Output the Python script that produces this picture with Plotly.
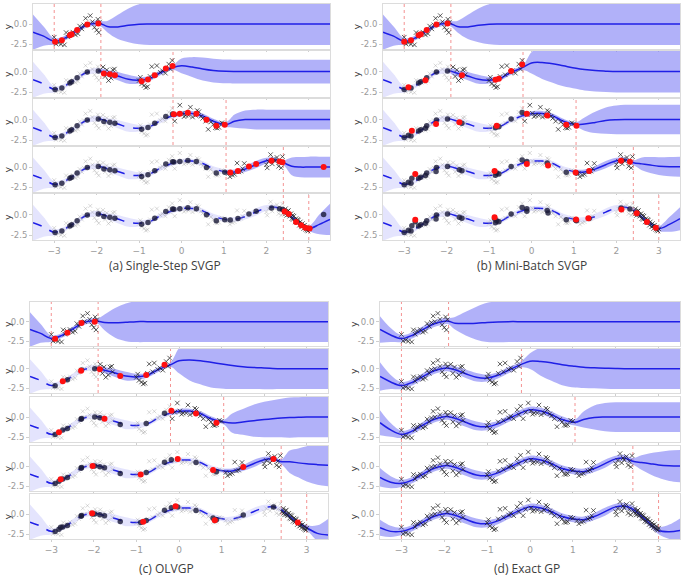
import plotly.graph_objects as go

XG = [-3.5, -3.25, -3.0, -2.75, -2.5, -2.25, -2.0, -1.9, -1.75, -1.5, -1.25, -1.0,
      -0.75, -0.5, -0.2, 0.0, 0.25, 0.5, 0.75, 1.05, 1.25, 1.5, 1.75, 2.0, 2.2,
      2.4, 2.6, 2.8, 3.0, 3.25, 3.5]
BOUNDS = [-3.0, -1.9, -0.2, 1.05, 2.4, 3.0]
X_TICKS = [-3, -2, -1, 0, 1, 2, 3]
Y_TICKS = [0.0, -2.5]
Y_TICKTEXT = ["0.0", "-2.5"]

# fitted mean / half-width of the band up to x = 3.0 (sparse variational models)
FIT_MEAN = [-1.0, -1.5, -2.15, -1.75, -0.95, -0.15, 0.1, 0.05, -0.2, -0.55, -0.95, -1.05,
            -0.85, -0.15, 0.5, 0.72, 0.75, 0.45, -0.2, -0.62, -0.6, -0.25, 0.3, 0.8, 0.9,
            0.55, -0.3, -1.1, -1.7]
FIT_SD = [2.2, 1.2, 0.4, 0.3, 0.3, 0.3, 0.35, 0.35, 0.4, 0.5, 0.55, 0.4, 0.3, 0.3, 0.3,
          0.3, 0.3, 0.3, 0.3, 0.3, 0.3, 0.35, 0.45, 0.35, 0.3, 0.3, 0.3, 0.3, 0.3]

# exact GP fit
EXACT_MEAN = [-1.9, -2.2, -2.15, -1.75, -1.0, -0.3, 0.05, 0.05, -0.15, -0.65, -1.1, -1.2,
              -0.85, -0.2, 0.55, 0.9, 0.75, 0.3, -0.3, -0.65, -0.7, -0.3, 0.3, 0.9, 1.0,
              0.6, -0.25, -1.2, -2.05]
EXACT_SD = [1.0, 0.7, 0.45, 0.4, 0.4, 0.4, 0.4, 0.4, 0.45, 0.55, 0.55, 0.45, 0.4, 0.4, 0.4,
            0.4, 0.4, 0.4, 0.4, 0.4, 0.4, 0.45, 0.5, 0.4, 0.4, 0.4, 0.4, 0.4, 0.45]
D_LEFT_MEAN = [[-1.0, -1.7], [-1.0, -1.7], [-0.7, -1.6], [-1.4, -2.0], [-1.7, -2.15]]
D_LEFT_SD = [[1.7, 0.9], [1.8, 0.9], [1.55, 0.85], [1.15, 0.75], [1.0, 0.7]]

# what the mean / band do to the right of the current batch, one list per row
A_TAIL_MEAN = [
    [-0.3, -0.35, -0.15, -0.02, 0, 0, 0, 0, 0, 0, 0, 0, 0, 0, 0, 0, 0, 0, 0, 0, 0, 0, 0],
    [0.7, 0.55, 0.3, 0.12, 0.02, 0, 0, 0, 0, 0, 0, 0, 0, 0, 0, 0],
    [-0.2, 0.0, 0, 0, 0, 0, 0, 0, 0, 0, 0],
    [0.1, 0.0, 0.0, 0.0, 0.0],
    [-1.2, -0.6],
]
A_TAIL_SD = [
    [0.7, 1.5, 2.1, 2.5, 2.6, 2.6, 2.6, 2.6, 2.6, 2.6, 2.6, 2.6, 2.6, 2.6, 2.6, 2.6, 2.6,
     2.6, 2.6, 2.6, 2.6, 2.6, 2.6],
    [0.9, 1.2, 1.4, 1.45, 1.45, 1.45, 1.45, 1.45, 1.45, 1.45, 1.45, 1.45, 1.45, 1.45, 1.45, 1.45],
    [0.8, 1.1, 1.2, 1.2, 1.2, 1.2, 1.2, 1.2, 1.2, 1.2, 1.2],
    [1.1, 1.25, 1.3, 1.3, 1.3],
    [1.2, 1.9],
]
B_TAIL_MEAN = [
    [-0.3, -0.35, -0.15, -0.02, 0, 0, 0, 0, 0, 0, 0, 0, 0, 0, 0, 0, 0, 0, 0, 0, 0, 0, 0],
    [1.05, 1.1, 0.95, 0.7, 0.4, 0.25, 0.12, 0.05, 0.0, 0, 0, 0, 0, 0, 0, 0],
    [-0.55, -0.35, -0.12, -0.03, 0, 0, 0, 0, 0, 0, 0],
    [0.4, 0.25, 0.12, 0.05, 0.05],
    [-1.2, -0.5],
]
B_TAIL_SD = [
    [0.7, 1.5, 2.1, 2.5, 2.6, 2.6, 2.6, 2.6, 2.6, 2.6, 2.6, 2.6, 2.6, 2.6, 2.6, 2.6, 2.6,
     2.6, 2.6, 2.6, 2.6, 2.6, 2.6],
    [1.3, 2.0, 2.3, 2.5, 2.5, 2.55, 2.55, 2.55, 2.55, 2.55, 2.55, 2.55, 2.55, 2.55, 2.55, 2.55],
    [0.8, 1.3, 1.6, 1.75, 1.8, 1.8, 1.8, 1.8, 1.8, 1.8, 1.8],
    [0.8, 1.0, 1.1, 1.2, 1.25],
    [0.9, 1.4],
]
C_TAIL_MEAN = [
    [-0.1, -0.15, -0.08, 0, 0, 0, 0, 0, 0, 0, 0, 0, 0, 0, 0, 0, 0, 0, 0, 0, 0, 0, 0],
    [1.0, 1.1, 1.0, 0.8, 0.55, 0.4, 0.25, 0.15, 0.08, 0.03, 0, 0, 0, 0, 0, 0],
    [-0.75, -0.6, -0.45, -0.3, -0.2, -0.12, -0.06, -0.02, 0, 0, 0],
    [0.55, 0.4, 0.28, 0.18, 0.1],
    [-2.4, -2.6],
]
C_TAIL_SD = [
    [1.0, 1.9, 2.4, 2.6, 2.6, 2.6, 2.6, 2.6, 2.6, 2.6, 2.6, 2.6, 2.6, 2.6, 2.6, 2.6, 2.6,
     2.6, 2.6, 2.6, 2.6, 2.6, 2.6],
    [1.6, 2.6, 3.0, 3.2, 3.1, 3.0, 2.85, 2.75, 2.7, 2.65, 2.6, 2.6, 2.6, 2.6, 2.6, 2.6],
    [1.2, 1.6, 2.0, 2.2, 2.3, 2.4, 2.5, 2.5, 2.5, 2.5, 2.5],
    [1.4, 1.8, 2.2, 2.5, 2.6],
    [1.0, 2.0],
]
D_TAIL_MEAN = [
    [-0.2, -0.25, -0.2, -0.1, -0.03, 0, 0, 0, 0, 0, 0, 0, 0, 0, 0, 0, 0, 0, 0, 0, 0, 0, 0],
    [0.95, 0.9, 0.75, 0.5, 0.3, 0.18, 0.1, 0.05, 0.02, 0, 0, 0, 0, 0, 0, 0],
    [-0.3, -0.05, 0, 0, 0, 0, 0, 0, 0, 0, 0],
    [0.45, 0.3, 0.15, 0.05, 0.0],
    [-2.2, -2.05],
]
D_TAIL_SD = [
    [0.8, 1.5, 2.1, 2.5, 2.6, 2.6, 2.6, 2.6, 2.6, 2.6, 2.6, 2.6, 2.6, 2.6, 2.6, 2.6, 2.6,
     2.6, 2.6, 2.6, 2.6, 2.6, 2.6],
    [1.0, 1.8, 2.3, 2.6, 2.7, 2.65, 2.6, 2.6, 2.6, 2.6, 2.6, 2.6, 2.6, 2.6, 2.6, 2.6],
    [1.0, 1.5, 1.75, 1.85, 1.85, 1.85, 1.85, 1.85, 1.85, 1.85, 1.85],
    [0.9, 1.3, 1.6, 1.9, 2.0],
    [0.9, 1.5],
]

# observations (same stream for every model)
DATA_X = [-3.0, -2.96, -2.9, -2.84, -2.76, -2.72, -2.68, -2.63, -2.56, -2.5, -2.44, -2.4,
          -2.35, -2.3, -2.26, -2.22, -2.15, -2.1, -2.05, -2.0, -1.95, -1.97, -1.93,
          -1.85, -1.8, -1.76, -1.72, -1.66, -1.62, -1.58, -1.56, -1.0, -0.97, -0.94, -0.88,
          -0.84, -0.8, -0.74, -0.7, -0.62, -0.58, -0.5, -0.45, -0.38, -0.3, -0.26, -0.22,
          -0.16, -0.1, -0.04, 0.02, 0.06, 0.1, 0.17, 0.21, 0.26, 0.33, 0.37, 0.41, 0.46, 0.5,
          0.57, 0.63, 0.69, 0.75, 0.8, 0.84, 0.88, 0.95, 1.0,
          1.1, 1.14, 1.2, 1.25, 1.31, 1.35, 1.4, 1.44, 1.48, 2.0, 2.02, 2.05, 2.1, 2.14,
          2.17, 2.2, 2.25, 2.29, 2.32, 2.35, 2.38,
          2.42, 2.45, 2.48, 2.5, 2.53, 2.55, 2.58, 2.6, 2.63, 2.65, 2.68, 2.7, 2.72, 2.75,
          2.78, 2.8, 2.83, 2.85, 2.88, 2.9, 2.93, 2.95, 2.98, 3.0, 2.46, 2.52, 2.62, 2.74,
          2.86, 2.96]
DATA_Y = [-1.63, -2.46, -2.35, -2.5, -2.58, -1.05, -1.6, -1.2, -1.0, -1.35, -1.2, -0.25,
          -0.6, -0.1, 0.72, 0.0, 1.05, 0.3, -0.4, -0.75, -1.05, 0.6, 0.25,
          0.55, -0.6, 0.2, -1.1, -0.8, 0.2, 0.3, -0.4, -1.1, -0.7, -1.5, -1.7,
          -1.95, -1.85, -0.6, 0.6, -0.4, 0.72, -0.1, 0.1, -0.2, 0.9, 0.3, 1.35,
          -0.2, 0.6, 1.75, 0.76, 0.35, 0.5, 0.5, 1.5, 0.3, 0.5, 1.1, 0.95, 0.4, 0.15,
          -0.2, -1.2, -0.3, -0.6, -1.0, -1.05, -0.95, -0.4, -0.5,
          -0.8, -1.2, -1.0, -0.9, 0.5, -0.6, -0.5, -0.2, 0.45, 0.3, -0.1, 0.7, 1.55, 0.4,
          1.0, 0.75, 1.2, 0.1, 0.6, -0.1, 1.3,
          0.3, 0.7, -0.1, 0.4, 0.0, -0.2, 0.1, -0.5, -0.6, -0.2, -0.9, -0.5, -1.0, -0.7,
          -1.3, -0.9, -1.5, -1.1, -1.7, -1.3, -1.8, -1.5, -2.0, -1.75, 0.1, 0.5, -0.1, -0.6,
          -1.4, -1.9]

# inducing points that get updated in each row (red); earlier ones are drawn dark
A_RED_X = [[-2.98, -2.82, -2.63, -2.59, -2.46, -2.22, -1.96],
           [-1.83, -1.69, -1.57, -0.94, -0.79, -0.63, -0.37, -0.21],
           [-0.18, -0.04, 0.15, 0.35, 0.59, 0.82, 1.02],
           [1.15, 1.33, 1.59, 1.76, 2.12, 2.31, 2.38, 3.35],
           [2.43, 2.53, 2.7, 2.82, 2.92, 3.02]]
A_RED_Y = [[-2.2, -2.0, -1.4, -1.25, -0.75, -0.05, 0.08],
           [-0.25, -0.33, -0.46, -1.17, -0.96, -0.46, 0.38, 0.67],
           [0.63, 0.71, 0.83, 0.71, -0.04, -0.75, -0.63],
           [-0.67, -0.48, 0.08, 0.4, 0.8, 0.71, 0.6, 0.0],
           [0.36, 0.08, -0.9, -1.3, -1.6, -1.7]]
B_RED_X = [[-3.0, -2.84, -2.66, -2.61, -2.47, -2.24, -1.98],
           [-2.9, -2.5, -1.64, -0.85, -0.77, -0.48, -0.22],
           [-2.82, -2.25, -1.7, -0.82, -0.11, 0.37, 0.82, 1.06],
           [-2.74, -0.87, -0.11, 0.39, 1.04, 1.36, 2.11, 2.32],
           [-2.74, -0.87, 1.05, 1.34, 2.12, 2.48, 2.72, 2.93]]
B_RED_Y = [[-2.2, -2.0, -1.4, -1.25, -0.75, -0.05, 0.08],
           [-1.9, -1.05, -0.45, -1.0, -0.87, 0.08, 0.87],
           [-1.38, -0.54, -0.33, -0.75, 0.71, 0.5, -0.63, -0.75],
           [-0.87, -0.48, 0.4, 0.2, -0.67, -0.48, 0.8, 0.67],
           [-0.63, -0.32, -0.6, -0.44, 0.6, 0.16, -0.9, -1.6]]
C_RED_X = [[-2.91, -2.62, -2.29, -1.98],
           [-2.73, -2.3, -1.86, -1.38, -0.77, -0.34],
           [-2.82, -1.75, -0.18, 0.4, 0.88],
           [-2.78, -2.03, -0.9, -0.03, 0.8, 1.51, 2.22],
           [-2.04, -0.84, -0.08, 0.84, 2.79]]
C_RED_Y = [[-2.17, -1.42, -0.17, 0.0],
           [-1.6, -0.28, -0.08, -0.93, -0.8, 0.48],
           [-1.9, -0.2, 0.8, 0.44, -0.69],
           [-1.65, 0.0, -1.04, 0.88, -0.5, -0.12, 0.88],
           [0.1, -0.94, 0.98, -0.78, -1.05]]

W, H = 685, 576
ROWS_TOP = [(4, 49), (51, 97), (99, 145), (147, 192), (194, 240)]
ROWS_BOT = [(302, 346), (349, 393), (397, 442), (446, 491), (494, 539)]


def fx(px):
    return px / W


def fy(py):
    return 1 - py / H


PANELS = [
    dict(title="(a) Single-Step SVGP", xs=(33, 330), rows=ROWS_TOP, tpos=(165, 265),
         fm=FIT_MEAN, fs=FIT_SD, tm=A_TAIL_MEAN, ts=A_TAIL_SD, rx=A_RED_X, ry=A_RED_Y),
    dict(title="(b) Mini-Batch SVGP", xs=(383, 680), rows=ROWS_TOP, tpos=(532, 265),
         fm=FIT_MEAN, fs=FIT_SD, tm=B_TAIL_MEAN, ts=B_TAIL_SD, rx=B_RED_X, ry=B_RED_Y),
    dict(title="(c) OLVGP", xs=(30, 328), rows=ROWS_BOT, tpos=(166, 568),
         fm=FIT_MEAN, fs=FIT_SD, tm=C_TAIL_MEAN, ts=C_TAIL_SD, rx=C_RED_X, ry=C_RED_Y),
    dict(title="(d) Exact GP", xs=(380, 680), rows=ROWS_BOT, tpos=(527, 568),
         fm=EXACT_MEAN, fs=EXACT_SD, tm=D_TAIL_MEAN, ts=D_TAIL_SD, rx=None, ry=None,
         exact=True),
]

BLUE = "#1f1fe6"
BAND_DARK = "rgba(120,120,245,0.58)"
BAND_LIGHT = "rgba(120,120,245,0.2)"
VLINE = "rgba(240,110,110,0.75)"
XTICK_FONT = dict(family="DejaVu Sans", size=9, color="#9a9a9a")
YTICK_FONT = dict(family="DejaVu Sans", size=8.5, color="#9a9a9a")

batch = [sum(x > b for b in BOUNDS[1:-1]) for x in DATA_X]

fig = go.Figure()
layout = dict(width=W, height=H, margin=dict(l=0, r=0, t=0, b=0),
              paper_bgcolor="white", plot_bgcolor="white", showlegend=False)
shapes, annotations = [], []


def band(xa, ya, m, s, i0, i1, color):
    xs = XG[i0:i1 + 1]
    lo = [m[i] - s[i] for i in range(i0, i1 + 1)]
    hi = [m[i] + s[i] for i in range(i0, i1 + 1)]
    fig.add_trace(go.Scatter(x=xs, y=lo, mode="lines", line=dict(width=0, shape="spline"),
                             xaxis=xa, yaxis=ya, hoverinfo="skip"))
    fig.add_trace(go.Scatter(x=xs, y=hi, mode="lines", line=dict(width=0, shape="spline"),
                             fill="tonexty", fillcolor=color, xaxis=xa, yaxis=ya,
                             hoverinfo="skip"))


n = 0
for p in PANELS:
    exact = p.get("exact", False)
    for r, (top, bot) in enumerate(p["rows"]):
        n += 1
        sfx = "" if n == 1 else str(n)
        xa, ya = "x" + sfx, "y" + sfx
        ib = XG.index(BOUNDS[r + 1])
        m = list(p["fm"][:ib + 1]) + list(p["tm"][r])
        s = list(p["fs"][:ib + 1]) + list(p["ts"][r])
        assert len(m) == len(XG) and len(s) == len(XG)
        if exact:
            m[:2] = D_LEFT_MEAN[r]
            s[:2] = D_LEFT_SD[r]
        last = len(XG) - 1
        ip = XG.index(BOUNDS[r])

        if exact or r == 0:
            band(xa, ya, m, s, 0, last, BAND_DARK)
            fig.add_trace(go.Scatter(x=XG, y=m, mode="lines", xaxis=xa, yaxis=ya,
                                     line=dict(color=BLUE, width=1.5, shape="spline")))
        else:
            band(xa, ya, m, s, 0, ip, BAND_LIGHT)
            band(xa, ya, m, s, ip, last, BAND_DARK)
            fig.add_trace(go.Scatter(x=XG[:ip + 1], y=m[:ip + 1], mode="lines",
                                     xaxis=xa, yaxis=ya,
                                     line=dict(color=BLUE, width=1.5, dash="dash",
                                               shape="spline")))
            fig.add_trace(go.Scatter(x=XG[ip:], y=m[ip:], mode="lines", xaxis=xa, yaxis=ya,
                                     line=dict(color=BLUE, width=1.5, shape="spline")))

        # batch boundaries
        left_line = BOUNDS[0] if exact else BOUNDS[r]
        for xv in (left_line, BOUNDS[r + 1]):
            shapes.append(dict(type="line", xref=xa, yref=ya + " domain", x0=xv, x1=xv,
                               y0=0, y1=1, layer="below",
                               line=dict(color=VLINE, width=1, dash="dot")))

        # observations
        if exact:
            cur = [i for i, b in enumerate(batch) if b <= r]
            old = []
        else:
            cur = [i for i, b in enumerate(batch) if b == r]
            old = [i for i, b in enumerate(batch) if b < r]
        if old:
            fig.add_trace(go.Scatter(
                x=[DATA_X[i] for i in old], y=[DATA_Y[i] for i in old], mode="markers",
                xaxis=xa, yaxis=ya,
                marker=dict(symbol="x-thin", size=4,
                            line=dict(width=0.9, color="rgba(150,150,150,0.4)"))))
        fig.add_trace(go.Scatter(
            x=[DATA_X[i] for i in cur], y=[DATA_Y[i] for i in cur], mode="markers",
            xaxis=xa, yaxis=ya,
            marker=dict(symbol="x-thin", size=4.5,
                        line=dict(width=0.9, color="rgba(30,30,30,0.8)"))))

        # inducing points
        if not exact:
            dx = [v for k in range(r) for v in p["rx"][k]]
            dy = [v for k in range(r) for v in p["ry"][k]]
            if dx:
                fig.add_trace(go.Scatter(x=dx, y=dy, mode="markers", xaxis=xa, yaxis=ya,
                                         marker=dict(size=5.5, color="rgba(25,25,55,0.8)")))
            fig.add_trace(go.Scatter(x=p["rx"][r], y=p["ry"][r], mode="markers",
                                     xaxis=xa, yaxis=ya,
                                     marker=dict(size=6, color="#ff1010")))

        x0, x1 = p["xs"]
        layout["xaxis" + sfx] = dict(
            domain=[fx(x0), fx(x1)], anchor=ya, range=[-3.5, 3.5], showgrid=False,
            zeroline=False, showline=True, mirror=True, linecolor="#dcdcdc",
            ticks="outside", ticklen=2, tickcolor="#cfcfcf", tickvals=X_TICKS,
            showticklabels=(r == 4), tickfont=XTICK_FONT)
        layout["yaxis" + sfx] = dict(
            domain=[fy(bot), fy(top)], anchor=xa, range=[-3.1, 2.5],
            showgrid=False, zeroline=False, showline=True, mirror=True,
            linecolor="#dcdcdc", ticks="outside", ticklen=3, tickcolor="#cfcfcf",
            tickvals=Y_TICKS, ticktext=Y_TICKTEXT, tickfont=YTICK_FONT)
        annotations.append(dict(text="y", xref="paper", yref="paper",
                                x=fx(max(x0 - 27, 7)), y=fy((top + bot) / 2),
                                xanchor="center", yanchor="middle",
                                showarrow=False, textangle=-90,
                                font=dict(family="DejaVu Sans", size=9.5, color="#333")))

    annotations.append(dict(text=p["title"], xref="paper", yref="paper",
                            x=fx(p["tpos"][0]), y=fy(p["tpos"][1]),
                            xanchor="center", yanchor="middle", showarrow=False,
                            font=dict(family="Open Sans", size=12, color="#404040")))

layout["shapes"] = shapes
layout["annotations"] = annotations
fig.update_layout(**layout)
# the browser's default 8px body margin would push the figure off its grid
fig.write_html("out.html", config={"displayModeBar": False},
               post_script="document.body.style.margin = '0px';")
